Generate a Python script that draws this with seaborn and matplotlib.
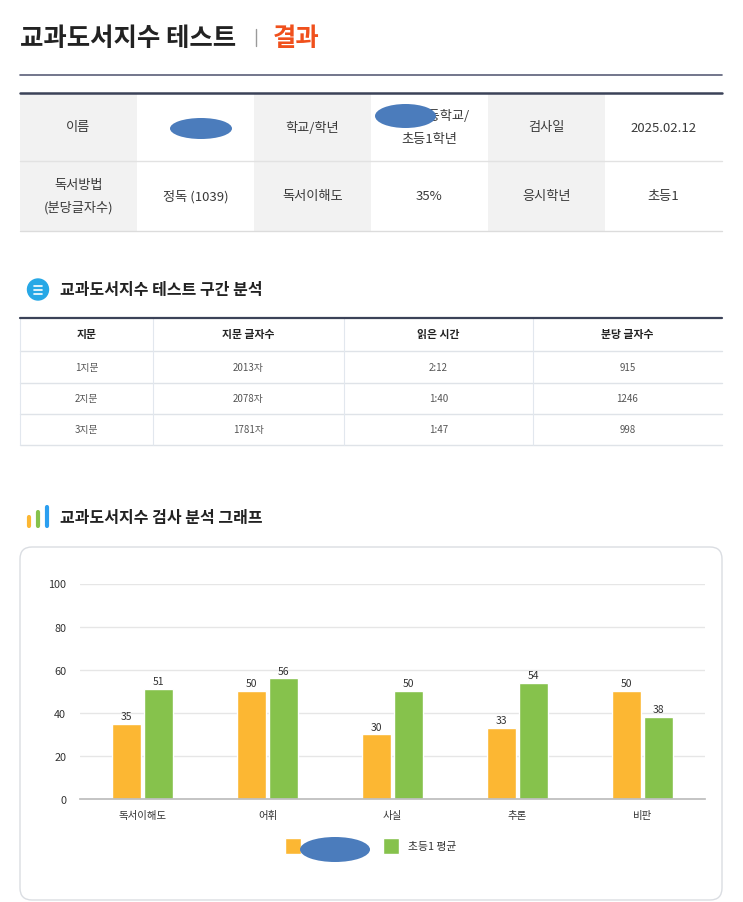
import pandas as pd
import seaborn as sns
import matplotlib.pyplot as plt
from matplotlib.patches import Rectangle, Ellipse, Circle, FancyBboxPatch

# data
info_row1 = ['이름', '', '학교/학년', '○○초등학교/\n초등1학년', '검사일', '2025.02.12']
info_row2 = ['독서방법\n(분당글자수)', '정독 (1039)', '독서이해도', '35%', '응시학년', '초등1']

passage_headers = ['지문', '지문 글자수', '읽은 시간', '분당 글자수']
passages = ['1지문', '2지문', '3지문']
passage_chars = ['2013자', '2078자', '1781자']
read_times = ['2:12', '1:40', '1:47']
chars_per_min = ['915', '1246', '998']

categories = ['독서이해도', '어휘', '사실', '추론', '비판']
student_scores = [35, 50, 30, 33, 50]
grade_avg = [51, 56, 50, 54, 38]
series_names = ['학생', '초등1 평균']
yticks = [0, 20, 40, 60, 80, 100]

ORANGE = '#fcb733'
GREEN = '#86c24c'
REDACT = '#4b7cbc'

sns.set_theme(style='white')
plt.rcParams['font.family'] = ['Noto Sans CJK KR', 'DejaVu Sans']

W, H = 743, 903
fig = plt.figure(figsize=(W / 100, H / 100), dpi=100)
fig.patch.set_facecolor('white')

# page layer in pixel coords
page = fig.add_axes([0, 0, 1, 1])
page.set_xlim(0, W)
page.set_ylim(H, 0)
page.axis('off')


def multiline(x, y, s, gap, **kw):
    lines = s.split('\n')
    y0 = y - gap * (len(lines) - 1) / 2
    for i, ln in enumerate(lines):
        page.text(x, y0 + i * gap, ln, ha='center', va='center', **kw)


# title
page.text(20, 38, '교과도서지수 테스트', fontsize=18.3, fontweight='bold', color='#222222',
          va='center', ha='left')
page.plot([256, 256], [30, 47], color='#9a9a9a', lw=1)
page.text(273, 38, '결과', fontsize=18.3, fontweight='bold', color='#f0501c', va='center', ha='left')
page.plot([20, 722], [76, 76], color='#5a5f78', lw=1.2)

# info table
col_w = (722 - 20) / 6
row_edges = [94, 162, 232]
for r, row in enumerate([info_row1, info_row2]):
    y0, y1 = row_edges[r], row_edges[r + 1]
    for c, val in enumerate(row):
        x0 = 20 + c * col_w
        if c % 2 == 0:
            page.add_patch(Rectangle((x0, y0), col_w, y1 - y0, facecolor='#f2f2f2', edgecolor='none'))
        multiline(x0 + col_w / 2, (y0 + y1) / 2, val, 22, fontsize=9.5, color='#3a3a3a')
page.plot([20, 722], [94, 94], color='#3b4258', lw=1.8)
page.plot([20, 722], [162, 162], color='#e2e2e2', lw=1)
page.plot([20, 722], [232, 232], color='#dcdcdc', lw=1)

# section 2 header
page.add_patch(Circle((38, 290.5), 10.5, color='#27a8e6'))
for yy, xa, xb in [(286.5, 34, 42), (290.5, 34, 42), (294.5, 34, 42)]:
    page.plot([xa, xb], [yy, yy], color='white', lw=1.2, solid_capstyle='round')
page.text(60, 290, '교과도서지수 테스트 구간 분석', fontsize=11.5, fontweight='bold',
          color='#222222', va='center', ha='left')

# passage table
col_edges = [20, 153, 344, 533, 722]
hrow = [319, 352, 384, 415, 446]
table_rows = [passage_headers] + [list(t) for t in zip(passages, passage_chars, read_times, chars_per_min)]
for r, row in enumerate(table_rows):
    yc = (hrow[r] + hrow[r + 1]) / 2
    for c, val in enumerate(row):
        xc = (col_edges[c] + col_edges[c + 1]) / 2
        if r == 0:
            page.text(xc, yc, val, ha='center', va='center', fontsize=7.8, fontweight='bold', color='#222222')
        else:
            page.text(xc, yc, val, ha='center', va='center', fontsize=7, color='#555555')
for yy in hrow[1:]:
    page.plot([20, 722], [yy, yy], color='#dfe3e8', lw=1)
for xx in col_edges[:-1]:
    page.plot([xx, xx], [319, 446], color='#e2e7ee', lw=0.8)
page.plot([20, 722], [319, 319], color='#3b4258', lw=1.6)

# section 3 header
for xx, top, col in [(29.2, 518, ORANGE), (37.6, 513, GREEN), (46.5, 508, '#2b9ff0')]:
    page.plot([xx, xx], [top, 527], color=col, lw=3, solid_capstyle='round')
page.text(60, 518, '교과도서지수 검사 분석 그래프', fontsize=11.5, fontweight='bold',
          color='#222222', va='center', ha='left')

# chart box
page.add_patch(FancyBboxPatch((20, 548), 702, 353, boxstyle='round,pad=0,rounding_size=12',
                              facecolor='white', edgecolor='#dadde2', lw=1))

# bar chart
ax = fig.add_axes([80 / W, (H - 800) / H, 625 / W, 215.5 / H])
df = pd.DataFrame({
    '영역': categories * 2,
    '점수': student_scores + grade_avg,
    '구분': [series_names[0]] * len(categories) + [series_names[1]] * len(categories),
})
sns.barplot(data=df, x='영역', y='점수', hue='구분', hue_order=series_names,
            palette=[ORANGE, GREEN], saturation=1, width=0.52, gap=0.11, ax=ax)
ax.set_ylim(0, 100)
ax.set_xlim(-0.5, len(categories) - 0.5)
ax.set_yticks(yticks)
ax.set_xlabel('')
ax.set_ylabel('')
ax.set_facecolor('none')
ax.yaxis.grid(True, color='#e6e6e6', lw=1)
ax.set_axisbelow(True)
for s in ['top', 'right', 'left']:
    ax.spines[s].set_visible(False)
ax.spines['bottom'].set_color('#bdbdbd')
ax.tick_params(axis='y', length=0, pad=10, labelsize=7.8, labelcolor='#333333')
ax.tick_params(axis='x', length=0, pad=8, labelsize=7.5, labelcolor='#333333')
for cont in ax.containers:
    ax.bar_label(cont, fmt='%d', padding=2, fontsize=7.5, color='#333333')

handles, labels = ax.get_legend_handles_labels()
ax.legend(handles, labels, loc='center', bbox_to_anchor=(370.5 / W, 1 - 847 / H),
          bbox_transform=fig.transFigure, ncol=2, frameon=False, fontsize=7.8,
          handlelength=1.5, handleheight=1.9, handletextpad=0.8, columnspacing=4.9,
          labelcolor='#333333')

# redaction marks
for cx, cy, ew, eh in [(201, 129.5, 62, 21), (405.5, 117, 61, 24), (335, 850.5, 70, 25)]:
    fig.add_artist(Ellipse((cx, cy), ew, eh, facecolor=REDACT, edgecolor='none',
                           transform=page.transData, zorder=10))

fig.savefig('out.png', dpi=100)
